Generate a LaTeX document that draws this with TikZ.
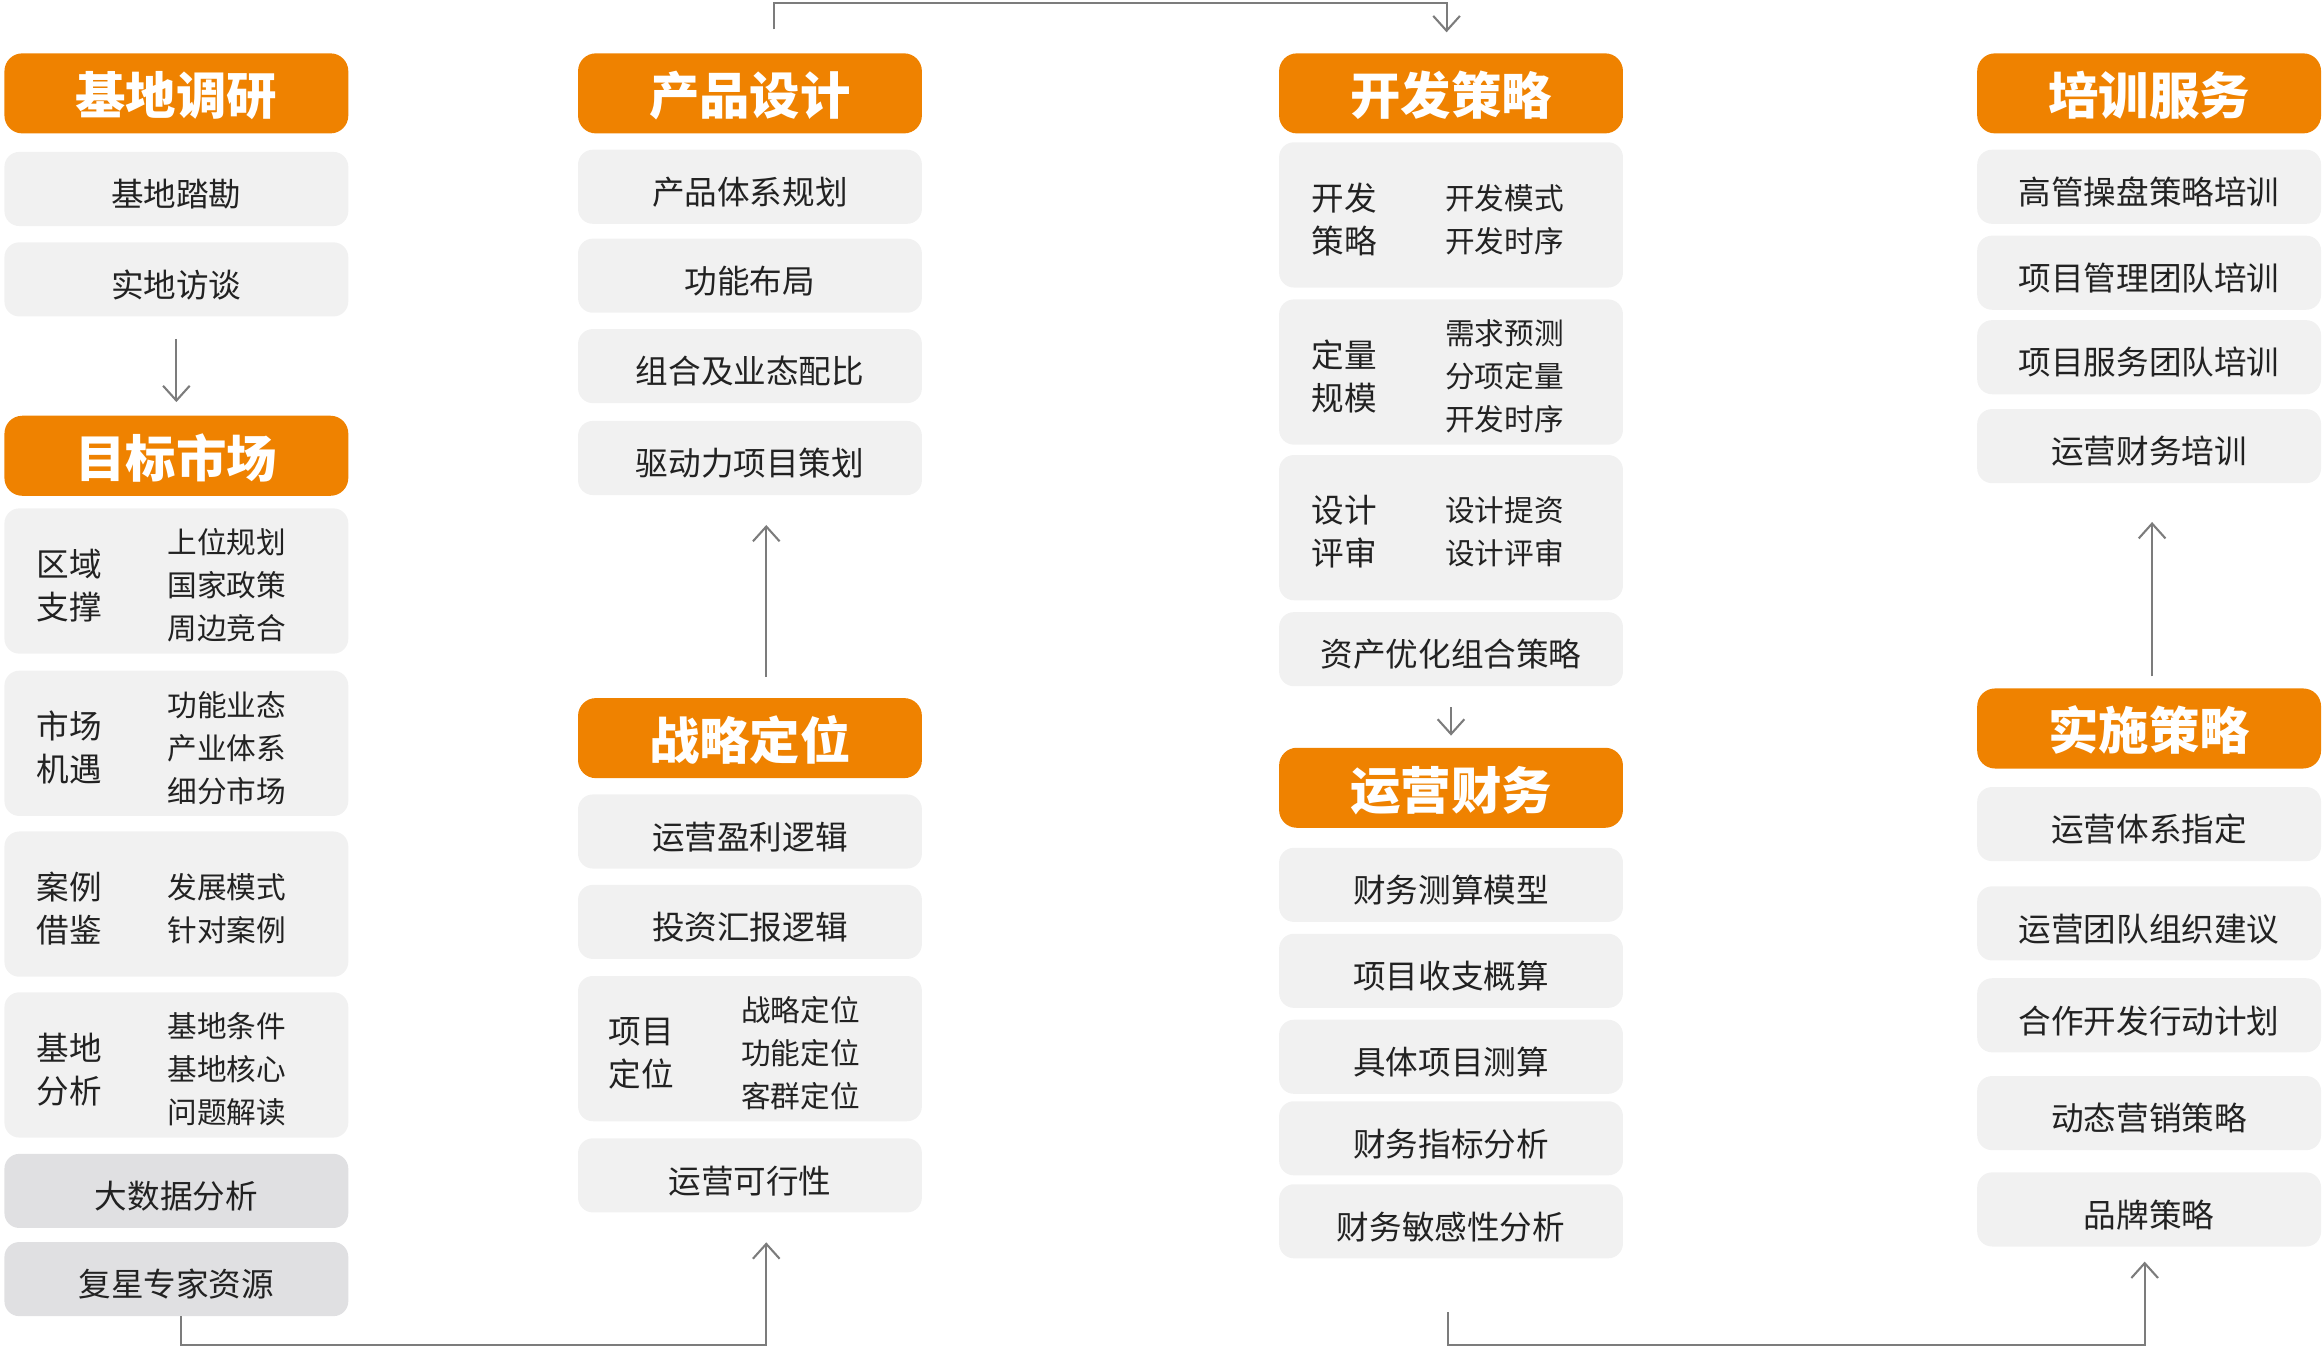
\documentclass[tikz,border=0pt]{standalone}
\usepackage{fontspec}
\setmainfont{Noto Sans CJK SC}
\usepackage{tikz}
\usetikzlibrary{arrows.meta,positioning}

\definecolor{orangehead}{HTML}{EF8200}
\definecolor{lightbox}{HTML}{F1F1F1}
\definecolor{darkbox}{HTML}{E0E0E2}
\definecolor{textgray}{HTML}{222222}
\definecolor{linegray}{HTML}{7C7C7C}

\begin{document}
\begin{tikzpicture}[x=1pt, y=-1pt,
  head/.style={fill=orangehead, rounded corners=12pt, text=white, inner sep=0pt,
    text height=29pt, text depth=0pt,
    minimum width=232pt, minimum height=54pt, font=\fontsize{34}{34}\selectfont\bfseries},
  item/.style={fill=lightbox, rounded corners=10pt, text=textgray, inner sep=0pt,
    text height=24pt, text depth=0pt,
    minimum width=232pt, minimum height=50pt, font=\fontsize{22}{29}\selectfont},
  tall/.style={item, minimum height=98pt},
  dark/.style={item, fill=darkbox},
  lefttag/.style={text=textgray, inner sep=0pt, align=left, yshift=-3pt, font=\fontsize{22}{29}\selectfont},
  righttag/.style={text=textgray, inner sep=0pt, align=left, anchor=west, yshift=-3pt, font=\fontsize{20}{29}\selectfont},
  flow/.style={draw=linegray, line width=1.4pt, -{Straight Barb[length=10pt,width=18pt]}},
  link/.style={draw=linegray, line width=1.4pt}]
  \useasboundingbox (0,0) rectangle (1568,908);

  % column 1
  \node[head] (jddy) at (119,63) {基地调研};
  \node[item] (jdtk) at (119,127.5) {基地踏勘};
  \node[item] (sdft) at (119,188.5) {实地访谈};
  \node[head] (mbsc) at (119,307.5) {目标市场};
  \node[tall] (qyzc) at (119,392) {};
  \node[lefttag] (qyzc-l) at ([xshift=44pt]qyzc.west) {区域\\支撑};
  \node[righttag] (qyzc-r) at ([xshift=110pt]qyzc.west) {上位规划\\国家政策\\周边竞合};
  \node[tall] (scjy) at (119,501.5) {};
  \node[lefttag] (scjy-l) at ([xshift=44pt]scjy.west) {市场\\机遇};
  \node[righttag] (scjy-r) at ([xshift=110pt]scjy.west) {功能业态\\产业体系\\细分市场};
  \node[tall] (aljj) at (119,610) {};
  \node[lefttag] (aljj-l) at ([xshift=44pt]aljj.west) {案例\\借鉴};
  \node[righttag] (aljj-r) at ([xshift=110pt]aljj.west) {发展模式\\针对案例};
  \node[tall] (jdfx) at (119,718.5) {};
  \node[lefttag] (jdfx-l) at ([xshift=44pt]jdfx.west) {基地\\分析};
  \node[righttag] (jdfx-r) at ([xshift=110pt]jdfx.west) {基地条件\\基地核心\\问题解读};
  \node[dark] (dsj) at (119,803.5) {大数据分析};
  \node[dark] (fxzj) at (119,863) {复星专家资源};

  % column 2
  \node[head] (cpsj) at (506,63) {产品设计};
  \node[item] (cptx) at (506,126) {产品体系规划};
  \node[item] (gnbj) at (506,186) {功能布局};
  \node[item] (zhyt) at (506,247) {组合及业态配比};
  \node[item] (qdl) at (506,309) {驱动力项目策划};
  \node[head] (zldw) at (506,498) {战略定位};
  \node[item] (yyyl) at (506,561) {运营盈利逻辑};
  \node[item] (tzhb) at (506,622) {投资汇报逻辑};
  \node[tall] (xmdw) at (506,707.5) {};
  \node[lefttag] (xmdw-l) at ([xshift=43pt]xmdw.west) {项目\\定位};
  \node[righttag] (xmdw-r) at ([xshift=110pt]xmdw.west) {战略定位\\功能定位\\客群定位};
  \node[item] (yykx) at (506,793) {运营可行性};

  % column 3
  \node[head] (kfcl) at (979,63) {开发策略};
  \node[tall] (kfms) at (979,145) {};
  \node[lefttag] (kfms-l) at ([xshift=44pt]kfms.west) {开发\\策略};
  \node[righttag] (kfms-r) at ([xshift=112pt]kfms.west) {开发模式\\开发时序};
  \node[tall] (dlgm) at (979,251) {};
  \node[lefttag] (dlgm-l) at ([xshift=44pt]dlgm.west) {定量\\规模};
  \node[righttag] (dlgm-r) at ([xshift=112pt]dlgm.west) {需求预测\\分项定量\\开发时序};
  \node[tall] (sjps) at (979,356) {};
  \node[lefttag] (sjps-l) at ([xshift=44pt]sjps.west) {设计\\评审};
  \node[righttag] (sjps-r) at ([xshift=112pt]sjps.west) {设计提资\\设计评审};
  \node[item] (zcyh) at (979,438) {资产优化组合策略};
  \node[head] (yycw) at (979,531.5) {运营财务};
  \node[item] (cwcs) at (979,597) {财务测算模型};
  \node[item] (szgs) at (979,655) {项目收支概算};
  \node[item] (jtxm) at (979,713) {具体项目测算};
  \node[item] (cwzb) at (979,768) {财务指标分析};
  \node[item] (cwmg) at (979,824) {财务敏感性分析};

  % column 4
  \node[head] (pxfw) at (1450,63) {培训服务};
  \node[item] (ggcp) at (1450,126) {高管操盘策略培训};
  \node[item] (xmgl) at (1450,184) {项目管理团队培训};
  \node[item] (xmfw) at (1450,241) {项目服务团队培训};
  \node[item] (yypx) at (1450,301) {运营财务培训};
  \node[head] (sscl) at (1450,491.5) {实施策略};
  \node[item] (yytx) at (1450,556) {运营体系指定};
  \node[item] (yytd) at (1450,623) {运营团队组织建议};
  \node[item] (hzkf) at (1450,685) {合作开发行动计划};
  \node[item] (dtyx) at (1450,751) {动态营销策略};
  \node[item] (ppcl) at (1450,816) {品牌策略};

  % connectors
  \draw[flow, shorten <=15pt, shorten >=9pt] (sdft) -- (mbsc);
  \draw[flow, shorten <=16pt, shorten >=14pt] ([xshift=16pt]cpsj.north) -- ++(0,-34) -| ([xshift=-3pt]kfcl.north);
  \draw[flow, shorten <=14pt, shorten >=20pt] ([xshift=11pt]zldw.north) -- ([xshift=11pt]qdl.south);
  \draw[flow, shorten <=14pt, shorten >=8pt] (zcyh) -- (yycw);
  \draw[flow, shorten <=8pt, shorten >=26pt] ([xshift=2pt]sscl.north) -- ([xshift=2pt]yypx.south);
  \draw[flow, shorten >=20pt] ([xshift=3pt]fxzj.south) -- ++(0,19) -| ([xshift=11pt]yykx.south);
  \draw[flow, shorten <=36pt, shorten >=10pt] ([xshift=-2pt]cwmg.south) -- ++(0,58) -| ([xshift=-3pt]ppcl.south);
\end{tikzpicture}
\end{document}
